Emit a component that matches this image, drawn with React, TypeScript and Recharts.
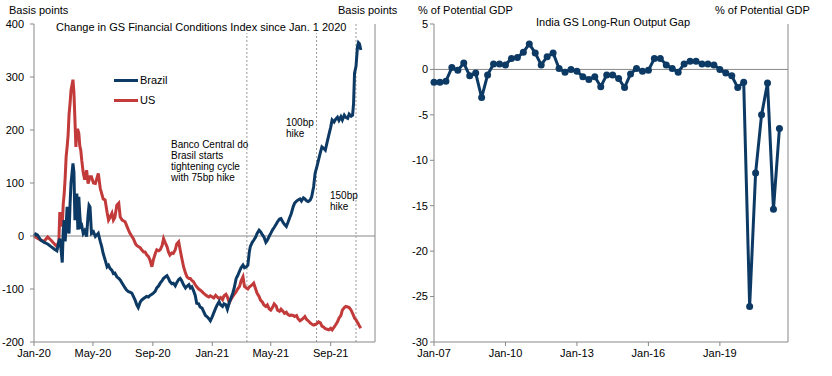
import { LineChart, Line, XAxis, YAxis, ReferenceLine } from "recharts"

// days since Jan 1 2020
const days = [
  0, 3, 7, 14, 21, 28, 35, 42, 47, 51,
  53, 56, 58, 60, 62, 64, 66, 68, 70, 72,
  74, 76, 78, 80, 82, 84, 86, 88, 90, 92,
  94, 96, 98, 101, 104, 108, 111, 113, 115, 118,
  122, 126, 132, 136, 139, 142, 146, 150, 153, 156,
  160, 163, 166, 170, 174, 177, 181, 187, 190, 194,
  197, 201, 204, 208, 211, 214, 218, 221, 225, 228,
  231, 235, 238, 242, 245, 249, 252, 256, 259, 263,
  266, 270, 273, 276, 279, 283, 286, 290, 293, 297,
  300, 303, 307, 311, 314, 318, 321, 324, 327, 331,
  334, 338, 341, 345, 348, 352, 355, 359, 362, 366,
  369, 373, 376, 380, 383, 387, 390, 394, 397, 401,
  404, 408, 411, 415, 418, 422, 425, 429, 432, 436,
  439, 442, 444, 448, 451, 455, 458, 462, 465, 469,
  472, 476, 479, 483, 486, 490, 493, 497, 500, 504,
  507, 511, 514, 518, 521, 525, 528, 532, 535, 539,
  542, 546, 549, 553, 556, 560, 563, 567, 570, 574,
  577, 581, 584, 588, 591, 595, 598, 602, 605, 609,
  612, 616, 619, 623, 626, 630, 633, 637, 640, 644,
  647, 651, 654, 656, 658, 661, 664, 666, 668, 671,
]

const brazil = [
  0, 4, 2, -8, -12, -15, -20, -25, -28, -10,
  -5, -30, -50, 10, 30, -10, 20, 55, 10, 5,
  60, 100, 118, 137, 120, 30, 60, 80, 12, 74,
  40, 18, 20, 5, 10, -1, 40, 58, 55, 5,
  8, -1, 5, -10, -20, -33, -45, -58, -55, -61,
  -65, -71, -70, -77, -80, -83, -89, -98, -102, -105,
  -106, -108, -114, -122, -130, -135, -125, -121, -118, -116,
  -114, -115, -112, -110, -108, -104, -98, -94, -89, -84,
  -80, -77, -75, -80, -86, -90, -89, -94, -88, -82,
  -80, -84, -92, -98, -95, -92, -98, -96, -102, -112,
  -127, -128, -134, -136, -142, -150, -152, -156, -160, -152,
  -145, -136, -130, -124, -130, -133, -128, -130, -138, -125,
  -118, -108, -98, -80, -75, -66, -60, -55, -60, -58,
  -55, -30, -20, -12, -8, -2, 5, 11, 8, 2,
  -2, -12, -8, 0, 5, 12, 16, 22, 27, 32,
  33, 26, 22, 18, 25, 35, 42, 55, 62, 66,
  68, 70, 66, 72, 70, 66, 65, 68, 74, 93,
  118, 132, 143, 158, 168, 165, 162, 178, 190, 205,
  219, 215, 220, 224, 218, 225, 219, 228, 224, 222,
  230, 226, 228, 250, 307, 320, 357, 365, 363, 351,
]

const us = [
  0, -2, -4, -8, -10, -2, -8, -15, -20, -10,
  45, 30, 18, 60, 80, 110, 150, 168, 190, 230,
  250, 275, 285, 295, 270, 220, 168, 200, 200, 194,
  170, 162, 143, 120, 106, 124, 99, 105, 112, 112,
  100, 99, 118, 90, 80, 70, 68, 45, 30, 35,
  43, 30, 35, 58, 62, 36, 30, 27, 20, 11,
  5, -1, -5, -14, -18, -20, -22, -26, -30, -30,
  -35, -39, -45, -58, -45, -33, -26, -28, -26, -18,
  -5, -14, -20, -30, -36, -32, -33, -26, -15, -11,
  -26, -40, -58, -70, -77, -80, -80, -84, -86, -92,
  -96, -100, -102, -105, -108, -111, -113, -115, -113, -115,
  -117, -112, -115, -118, -116, -120, -113, -110, -115, -126,
  -120, -114, -110, -105, -100, -95, -85, -77, -95, -98,
  -100, -96, -95, -92, -89, -100, -108, -114, -121, -125,
  -130, -133, -130, -138, -140, -134, -128, -132, -140, -142,
  -138, -142, -146, -144, -148, -150, -149, -150, -152, -150,
  -156, -160, -158, -155, -152, -158, -160, -164, -166, -168,
  -167, -165, -162, -164, -170, -172, -175, -176, -177, -174,
  -177, -172, -168, -162, -155, -150, -140, -135, -133, -134,
  -135, -140, -146, -150, -155, -158, -163, -166, -170, -174,
]

const fciTicks = [0, 121, 244, 366, 486, 609]
const fciTickLabels = ["Jan-20", "May-20", "Sep-20", "Jan-21", "May-21", "Sep-21"]
const bpTicks = [-200, -100, 0, 100, 200, 300, 400]
// BCB hike dates (days since Jan 1 2020) and how high the dashed line reaches
const hikeDays = [437, 580, 661]
const hikeTops = [383, 383, 400]

// India output gap, quarterly from Q1 2007
const gapStartYear = 2007
const outputGap = [
  -1.4, -1.4, -1.3, 0.2, -0.1, 0.7, -0.7, -0.4, -3.1, -0.6,
  0.6, 0.6, 0.5, 1.2, 1.3, 1.9, 2.8, 1.8, 0.5, 1.4,
  1.8, 0.1, -0.3, 0.0, -0.2, -0.8, -1.1, -0.8, -1.9, -0.6,
  -0.6, -1.0, -2.0, -0.5, 0.1, -0.2, -0.1, 1.2, 1.2, 0.5,
  0.1, -0.3, 0.6, 0.9, 0.9, 0.6, 0.6, 0.5, 0.0, -0.4,
  -0.7, -2.0, -1.4, -26.1, -11.4, -5.0, -1.5, -15.4, -6.5,
]
const gapTicks = [2007, 2010, 2013, 2016, 2019]
const gapTickLabels = ["Jan-07", "Jan-10", "Jan-13", "Jan-16", "Jan-19"]
const gapYTicks = [-30, -25, -20, -15, -10, -5, 0, 5]

const NAVY = "#0d3a64"
const RED = "#c23a3a"
const AXIS = "#888"
const FONT = "'Liberation Sans', Arial, sans-serif"

const fciData = days.map((d, i) => ({ day: d, brazil: brazil[i], us: us[i] }))
const gapData = outputGap.map((v, i) => ({ t: gapStartYear + i * 0.25, gap: v }))

const tickStyle = { fontSize: 11, fill: "#000", fontFamily: FONT }

function Label({ x, y, children, size = 11 }: { x: number; y: number; children: any; size?: number }) {
  return (
    <div
      style={{
        position: "absolute",
        left: x,
        top: y - 7,
        fontSize: size,
        lineHeight: "14px",
        fontFamily: FONT,
        color: "#000",
        whiteSpace: "nowrap",
      }}
    >
      {children}
    </div>
  )
}

function LegendItem({ x, y, color, text }: { x: number; y: number; color: string; text: string }) {
  return (
    <>
      <div style={{ position: "absolute", left: x, top: y - 1.5, width: 24, height: 3, background: color }} />
      <Label x={x + 26} y={y}>{text}</Label>
    </>
  )
}

export default function App() {
  return (
    <div style={{ position: "absolute", left: 0, top: 0, width: 832, height: 376, background: "#fff" }}>
      <div style={{ position: "absolute", left: 0, top: 0 }}>
        <LineChart width={410} height={376} data={fciData} margin={{ top: 24, right: 0, bottom: 0, left: 0 }}>
          <XAxis
            dataKey="day"
            type="number"
            domain={[0, 700]}
            ticks={fciTicks}
            tickFormatter={(v: number) => fciTickLabels[fciTicks.indexOf(v)]}
            stroke={AXIS}
            tick={tickStyle}
            tickSize={4}
            tickMargin={3}
            height={34}
          />
          <YAxis
            yAxisId="left"
            domain={[-200, 400]}
            ticks={bpTicks}
            stroke={AXIS}
            tick={tickStyle}
            tickSize={4}
            tickMargin={6}
            width={34}
          />
          <YAxis
            yAxisId="right"
            orientation="right"
            domain={[-200, 400]}
            ticks={bpTicks}
            stroke={AXIS}
            tick={tickStyle}
            tickSize={4}
            tickMargin={6}
            width={35}
          />
          <ReferenceLine yAxisId="left" y={0} stroke={AXIS} strokeWidth={1} />
          {hikeDays.map((d, i) => (
            <ReferenceLine
              key={d}
              yAxisId="left"
              segment={[{ x: d, y: -200 }, { x: d, y: hikeTops[i] }]}
              stroke="#999"
              strokeDasharray="2 2"
            />
          ))}
          <Line yAxisId="left" dataKey="us" stroke={RED} strokeWidth={3} dot={false} isAnimationActive={false} />
          <Line yAxisId="left" dataKey="brazil" stroke={NAVY} strokeWidth={3} dot={false} isAnimationActive={false} />
        </LineChart>
      </div>

      <div style={{ position: "absolute", left: 410, top: 0 }}>
        <LineChart width={422} height={376} data={gapData} margin={{ top: 24, right: 0, bottom: 0, left: 0 }}>
          <XAxis
            dataKey="t"
            type="number"
            domain={[2007, 2021.86]}
            ticks={gapTicks}
            tickFormatter={(v: number) => gapTickLabels[gapTicks.indexOf(v)]}
            stroke={AXIS}
            tick={tickStyle}
            tickSize={4}
            tickMargin={3}
            height={34}
          />
          <YAxis
            yAxisId="left"
            domain={[-30, 5]}
            ticks={gapYTicks}
            stroke={AXIS}
            tick={tickStyle}
            tickSize={4}
            tickMargin={2}
            width={24}
          />
          <YAxis
            yAxisId="right"
            orientation="right"
            domain={[-30, 5]}
            ticks={gapYTicks}
            stroke={AXIS}
            tick={tickStyle}
            tickSize={4}
            tickMargin={2}
            width={44}
          />
          <ReferenceLine yAxisId="left" y={0} stroke={AXIS} strokeWidth={1} />
          <Line
            yAxisId="left"
            dataKey="gap"
            stroke={NAVY}
            strokeWidth={3}
            dot={{ r: 3.5, fill: NAVY, stroke: NAVY, strokeWidth: 0 }}
            isAnimationActive={false}
          />
        </LineChart>
      </div>

      <Label x={9} y={10}>Basis points</Label>
      <Label x={338} y={10}>Basis points</Label>
      <Label x={56} y={27}>Change in GS Financial Conditions Index since Jan. 1 2020</Label>
      <LegendItem x={114} y={80} color={NAVY} text="Brazil" />
      <LegendItem x={114} y={100} color={RED} text="US" />
      <div
        style={{
          position: "absolute",
          left: 171,
          top: 139,
          fontSize: 10,
          lineHeight: "11px",
          fontFamily: FONT,
          color: "#000",
        }}
      >
        Banco Central do
        <br />
        Brasil starts
        <br />
        tightening cycle
        <br />
        with 75bp hike
      </div>
      <div style={{ position: "absolute", left: 286, top: 117, fontSize: 10, lineHeight: "11px", fontFamily: FONT }}>
        100bp
        <br />
        hike
      </div>
      <div style={{ position: "absolute", left: 330, top: 190, fontSize: 10, lineHeight: "11px", fontFamily: FONT }}>
        150bp
        <br />
        hike
      </div>

      <Label x={418} y={10}>% of Potential GDP</Label>
      <Label x={715} y={10}>% of Potential GDP</Label>
      <Label x={536} y={22}>India GS Long-Run Output Gap</Label>
    </div>
  )
}
